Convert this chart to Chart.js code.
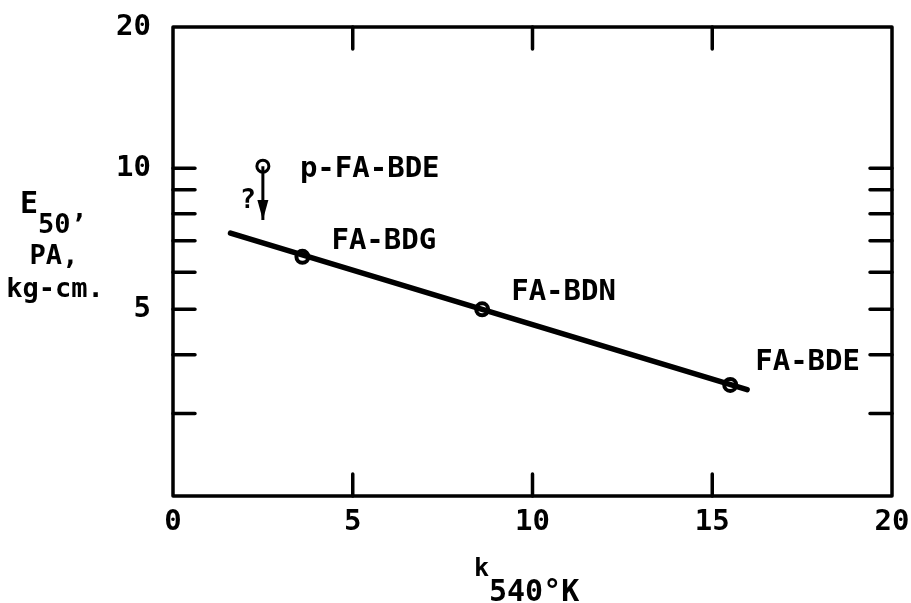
<!DOCTYPE html>
<html>
<head>
<meta charset="utf-8">
<script src="https://cdn.jsdelivr.net/npm/chart.js@4/dist/chart.umd.min.js"></script>
<style>
  html, body { margin:0; padding:0; background:#fff; }
  #wrap { width:911px; height:603px; position:relative; }
</style>
</head>
<body>
<div id="wrap"><canvas id="c" width="911" height="603"></canvas></div>
<script>
// ---- data ----
const pointNames = ['FA-BDG', 'FA-BDN', 'FA-BDE'];
const pointK     = [3.6, 8.6, 15.5];
const pointE     = [6.47, 5.0, 3.45];

const openName = 'p-FA-BDE';
const openK    = [2.5];
const openE    = [10.1];

const arrowK   = [2.5, 2.5];
const arrowE   = [10.1, 7.75];

const fitK     = [1.6, 15.97];
const fitE     = [7.27, 3.37];

const xTicks      = [0, 5, 10, 15, 20];
const yTickLabels = [5, 10, 20];
const yMinorTicks = [3, 4, 5, 6, 7, 8, 9, 10];
const xInnerTicks = [5, 10, 15];

const FONT = '"DejaVu Sans Mono", "Liberation Mono", monospace';

const toXY = (xs, ys) => xs.map((x, i) => ({x, y: ys[i]}));

const decorPlugin = {
  id: 'decor',
  afterDatasetsDraw(chart) {
    const ctx = chart.ctx;
    const a = chart.chartArea;
    const xs = chart.scales.x, ys = chart.scales.y;
    ctx.save();
    ctx.strokeStyle = '#000';
    ctx.fillStyle = '#000';
    ctx.lineCap = 'round';
    ctx.lineJoin = 'round';
    // frame
    ctx.lineWidth = 3.5;
    ctx.strokeRect(a.left, a.top, a.right - a.left, a.bottom - a.top);
    // inward ticks
    const TL = 22;
    xInnerTicks.forEach(v => {
      const px = xs.getPixelForValue(v);
      ctx.beginPath();
      ctx.moveTo(px, a.bottom); ctx.lineTo(px, a.bottom - TL);
      ctx.moveTo(px, a.top); ctx.lineTo(px, a.top + TL);
      ctx.stroke();
    });
    yMinorTicks.forEach(v => {
      const py = ys.getPixelForValue(v);
      ctx.beginPath();
      ctx.moveTo(a.left, py); ctx.lineTo(a.left + TL, py);
      ctx.moveTo(a.right, py); ctx.lineTo(a.right - TL, py);
      ctx.stroke();
    });
    // arrow head
    const tx = xs.getPixelForValue(arrowK[1]);
    const ty = ys.getPixelForValue(arrowE[1]);
    ctx.beginPath();
    ctx.moveTo(tx, ty);
    ctx.lineTo(tx - 5.5, ty - 20);
    ctx.lineTo(tx + 5.5, ty - 20);
    ctx.closePath();
    ctx.fill();

    // point labels
    ctx.font = 'bold 29px ' + FONT;
    ctx.textBaseline = 'middle';
    ctx.textAlign = 'left';
    const offs = [[29, -15], [29, -17], [25, -22]];
    pointNames.forEach((n, i) => {
      const px = xs.getPixelForValue(pointK[i]);
      const py = ys.getPixelForValue(pointE[i]);
      ctx.fillText(n, px + offs[i][0], py + offs[i][1]);
    });
    {
      const px = xs.getPixelForValue(openK[0]);
      const py = ys.getPixelForValue(openE[0]);
      ctx.fillText(openName, px + 37, py + 3);
      ctx.font = 'bold 27px ' + FONT;
      ctx.textAlign = 'center';
      ctx.fillText('?', px - 15, py + 35);
    }

    // y axis title
    ctx.textAlign = 'left';
    ctx.textBaseline = 'alphabetic';
    ctx.font = 'bold 30px ' + FONT;
    ctx.fillText('E', 20, 213);
    ctx.font = 'bold 27px ' + FONT;
    ctx.fillText('50\u2019', 38, 233);
    ctx.textAlign = 'center';
    ctx.fillText('PA,', 54, 264);
    ctx.fillText('kg-cm.', 55, 297);

    // x axis title
    ctx.textAlign = 'left';
    ctx.font = 'bold 25px ' + FONT;
    ctx.fillText('k', 474, 576);
    ctx.font = 'bold 30px ' + FONT;
    ctx.fillText('540\u00B0K', 489, 601);
    ctx.restore();
  }
};

const zeroPad = s => { s.paddingTop = 0; s.paddingBottom = 0; s.paddingLeft = 0; s.paddingRight = 0; };

new Chart(document.getElementById('c'), {
  type: 'scatter',
  data: {
    datasets: [
      { // fitted line
        data: toXY(fitK, fitE),
        showLine: true,
        borderColor: '#000',
        borderWidth: 5.5,
        pointRadius: 0,
        borderCapStyle: 'round'
      },
      { // arrow shaft
        data: toXY(arrowK, arrowE),
        showLine: true,
        borderColor: '#000',
        borderWidth: 3,
        pointRadius: 0
      },
      { // measured points
        data: toXY(pointK, pointE),
        showLine: false,
        pointRadius: 6,
        pointBorderWidth: 4,
        pointBorderColor: '#000',
        pointBackgroundColor: 'rgba(255,255,255,0)'
      },
      { // open point
        data: toXY(openK, openE),
        showLine: false,
        pointRadius: 6,
        pointBorderWidth: 3,
        pointBorderColor: '#000',
        pointBackgroundColor: '#fff'
      }
    ]
  },
  options: {
    responsive: false,
    animation: false,
    events: [],
    layout: { padding: { left: 0, top: 27, right: 19, bottom: 0 } },
    plugins: { legend: { display: false }, tooltip: { enabled: false } },
    scales: {
      x: {
        type: 'linear',
        min: 0, max: 20,
        afterBuildTicks: s => { s.ticks = xTicks.map(v => ({value: v})); },
        afterFit: s => { s.height = 107; zeroPad(s); },
        ticks: { color: '#000', font: { family: FONT, size: 29, weight: 'bold' }, padding: 1, maxRotation: 0 },
        grid: { display: false },
        border: { display: false }
      },
      y: {
        type: 'logarithmic',
        min: 2, max: 20,
        afterBuildTicks: s => { s.ticks = yTickLabels.map(v => ({value: v})); },
        afterFit: s => { s.width = 173; zeroPad(s); },
        ticks: { color: '#000', font: { family: FONT, size: 29, weight: 'bold' }, padding: 14,
                 callback: v => String(v) },
        grid: { display: false },
        border: { display: false }
      }
    }
  },
  plugins: [decorPlugin]
});
</script>
</body>
</html>
